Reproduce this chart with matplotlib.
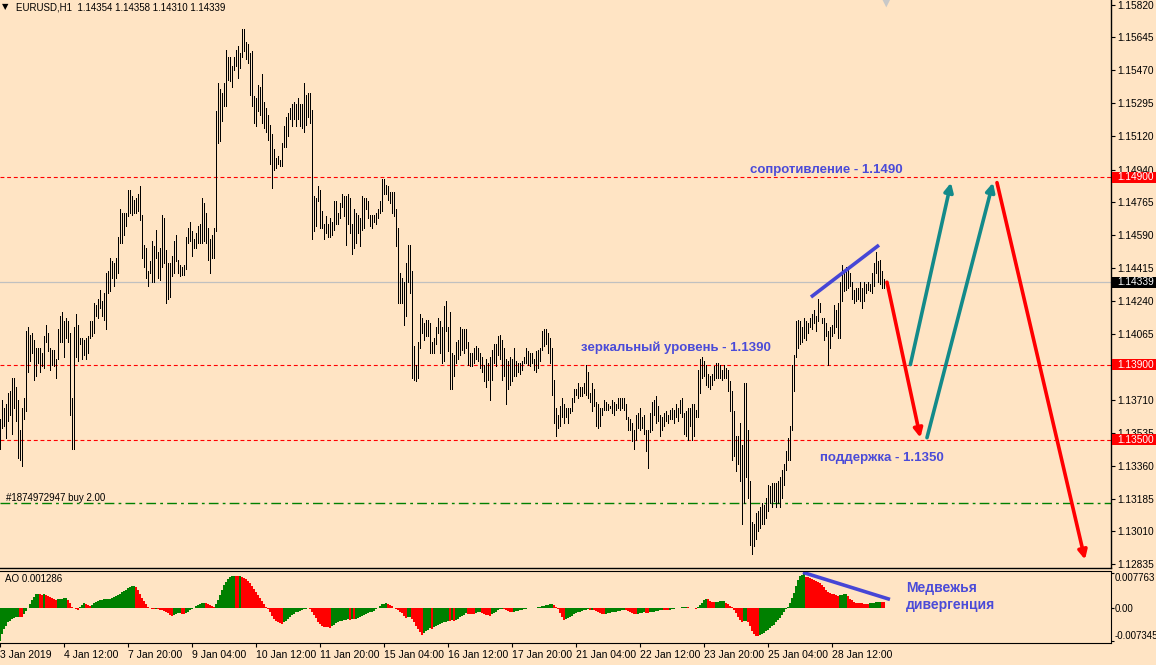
""" EURUSD H1 chart with Awesome Oscillator, MT4 look """
import numpy as np
import matplotlib.pyplot as plt
import matplotlib.transforms as mtransforms
from matplotlib.patches import Rectangle

''' bar data read off the screenshot (one value per hourly bar) '''
high = [
    1.1361, 1.1371, 1.1367, 1.1369, 1.1375, 1.1376, 1.1383, 1.1383, 1.1378, 1.1371,
    1.1355, 1.1367, 1.1372, 1.1408, 1.1410, 1.1406, 1.1407, 1.1403, 1.1399, 1.1399,
    1.1399, 1.1396, 1.1405, 1.1411, 1.1407, 1.1399, 1.1398, 1.1398, 1.1393, 1.1409,
    1.1416, 1.1418, 1.1413, 1.1415, 1.1413, 1.1407, 1.1372, 1.1410, 1.1417, 1.1411,
    1.1404, 1.1404, 1.1403, 1.1404, 1.1405, 1.1413, 1.1413, 1.1423, 1.1422, 1.1425,
    1.1430, 1.1424, 1.1428, 1.1439, 1.1440, 1.1447, 1.1445, 1.1444, 1.1447, 1.1458,
    1.1473, 1.1471, 1.1471, 1.1471, 1.1483, 1.1483, 1.1480, 1.1478, 1.1479, 1.1481,
    1.1485, 1.1470, 1.1454, 1.1452, 1.1440, 1.1445, 1.1456, 1.1453, 1.1462, 1.1450,
    1.1452, 1.1470, 1.1468, 1.1451, 1.1444, 1.1444, 1.1448, 1.1456, 1.1459, 1.1446,
    1.1443, 1.1442, 1.1443, 1.1458, 1.1463, 1.1466, 1.1461, 1.1457, 1.1460, 1.1464,
    1.1465, 1.1479, 1.1476, 1.1471, 1.1463, 1.1457, 1.1459, 1.1463, 1.1525, 1.1540,
    1.1537, 1.1535, 1.1540, 1.1558, 1.1554, 1.1554, 1.1549, 1.1554, 1.1558, 1.1560,
    1.1556, 1.1569, 1.1569, 1.1562, 1.1561, 1.1556, 1.1557, 1.1533, 1.1532, 1.1539,
    1.1538, 1.1545, 1.1530, 1.1527, 1.1523, 1.1518, 1.1513, 1.1505, 1.1500, 1.1501,
    1.1499, 1.1508, 1.1517, 1.1522, 1.1524, 1.1527, 1.1529, 1.1530, 1.1529, 1.1532,
    1.1529, 1.1529, 1.1540, 1.1534, 1.1535, 1.1535, 1.1526, 1.1480, 1.1479, 1.1485,
    1.1483, 1.1472, 1.1465, 1.1469, 1.1465, 1.1468, 1.1466, 1.1477, 1.1477, 1.1471,
    1.1476, 1.1481, 1.1480, 1.1480, 1.1481, 1.1479, 1.1465, 1.1473, 1.1471, 1.1470,
    1.1468, 1.1480, 1.1479, 1.1479, 1.1477, 1.1470, 1.1470, 1.1470, 1.1471, 1.1473,
    1.1477, 1.1489, 1.1489, 1.1486, 1.1485, 1.1482, 1.1482, 1.1482, 1.1473, 1.1463,
    1.1439, 1.1436, 1.1434, 1.1444, 1.1454, 1.1454, 1.1440, 1.1400, 1.1390, 1.1402,
    1.1417, 1.1415, 1.1412, 1.1414, 1.1414, 1.1412, 1.1402, 1.1404, 1.1410, 1.1415,
    1.1413, 1.1410, 1.1421, 1.1424, 1.1410, 1.1418, 1.1396, 1.1395, 1.1402, 1.1403,
    1.1410, 1.1409, 1.1409, 1.1409, 1.1402, 1.1396, 1.1396, 1.1399, 1.1400, 1.1399,
    1.1396, 1.1394, 1.1390, 1.1393, 1.1391, 1.1394, 1.1398, 1.1401, 1.1401, 1.1405,
    1.1406, 1.1403, 1.1399, 1.1393, 1.1392, 1.1394, 1.1393, 1.1399, 1.1392, 1.1391,
    1.1391, 1.1392, 1.1394, 1.1399, 1.1397, 1.1396, 1.1396, 1.1393, 1.1397, 1.1398,
    1.1399, 1.1408, 1.1409, 1.1409, 1.1407, 1.1404, 1.1399, 1.1382, 1.1367, 1.1363,
    1.1368, 1.1372, 1.1369, 1.1367, 1.1367, 1.1367, 1.1372, 1.1377, 1.1377, 1.1380,
    1.1378, 1.1378, 1.1380, 1.1390, 1.1386, 1.1375, 1.1380, 1.1377, 1.1370, 1.1369,
    1.1367, 1.1367, 1.1371, 1.1370, 1.1369, 1.1368, 1.1371, 1.1370, 1.1369, 1.1372,
    1.1372, 1.1372, 1.1372, 1.1369, 1.1362, 1.1361, 1.1359, 1.1355, 1.1363, 1.1364,
    1.1367, 1.1362, 1.1363, 1.1355, 1.1355, 1.1364, 1.1370, 1.1371, 1.1373, 1.1368,
    1.1363, 1.1362, 1.1364, 1.1365, 1.1363, 1.1366, 1.1367, 1.1366, 1.1369, 1.1367,
    1.1371, 1.1372, 1.1364, 1.1365, 1.1367, 1.1367, 1.1369, 1.1369, 1.1366, 1.1387,
    1.1393, 1.1394, 1.1392, 1.1390, 1.1385, 1.1384, 1.1385, 1.1389, 1.1391, 1.1391,
    1.1390, 1.1387, 1.1390, 1.1388, 1.1387, 1.1381, 1.1376, 1.1365, 1.1352, 1.1352,
    1.1359, 1.1347, 1.1380, 1.1380, 1.1355, 1.1328, 1.1306, 1.1305, 1.1311, 1.1312,
    1.1314, 1.1316, 1.1315, 1.1319, 1.1326, 1.1325, 1.1327, 1.1327, 1.1327, 1.1328,
    1.1330, 1.1334, 1.1337, 1.1344, 1.1351, 1.1357, 1.1390, 1.1395, 1.1413, 1.1414,
    1.1413, 1.1410, 1.1415, 1.1413, 1.1412, 1.1415, 1.1417, 1.1419, 1.1416, 1.1425,
    1.1423, 1.1415, 1.1415, 1.1412, 1.1408, 1.1410, 1.1411, 1.1422, 1.1419, 1.1423,
    1.1434, 1.1443, 1.1439, 1.1442, 1.1441, 1.1439, 1.1434, 1.1430, 1.1431, 1.1431,
    1.1434, 1.1431, 1.1434, 1.1433, 1.1434, 1.1433, 1.1439, 1.1444, 1.1450, 1.1445,
    1.1446, 1.1440, 1.14358,
]
low = [
    1.1345, 1.1356, 1.1357, 1.1351, 1.1360, 1.1363, 1.1353, 1.1367, 1.1360, 1.1340,
    1.1339, 1.1336, 1.1361, 1.1365, 1.1386, 1.1392, 1.1396, 1.1382, 1.1384, 1.1391,
    1.1386, 1.1389, 1.1388, 1.1402, 1.1397, 1.1387, 1.1390, 1.1389, 1.1383, 1.1393,
    1.1402, 1.1402, 1.1394, 1.1404, 1.1402, 1.1363, 1.1345, 1.1345, 1.1394, 1.1392,
    1.1401, 1.1393, 1.1395, 1.1393, 1.1396, 1.1404, 1.1405, 1.1407, 1.1416, 1.1415,
    1.1420, 1.1416, 1.1414, 1.1409, 1.1428, 1.1429, 1.1436, 1.1432, 1.1436, 1.1439,
    1.1455, 1.1455, 1.1459, 1.1464, 1.1469, 1.1471, 1.1470, 1.1471, 1.1471, 1.1472,
    1.1467, 1.1447, 1.1442, 1.1436, 1.1432, 1.1439, 1.1434, 1.1434, 1.1447, 1.1436,
    1.1435, 1.1442, 1.1444, 1.1423, 1.1425, 1.1426, 1.1437, 1.1439, 1.1445, 1.1439,
    1.1437, 1.1438, 1.1438, 1.1441, 1.1455, 1.1456, 1.1448, 1.1452, 1.1452, 1.1455,
    1.1455, 1.1455, 1.1456, 1.1455, 1.1446, 1.1439, 1.1447, 1.1447, 1.1461, 1.1508,
    1.1509, 1.1520, 1.1528, 1.1528, 1.1542, 1.1541, 1.1538, 1.1547, 1.1549, 1.1543,
    1.1548, 1.1554, 1.1557, 1.1553, 1.1551, 1.1534, 1.1528, 1.1519, 1.1517, 1.1525,
    1.1523, 1.1519, 1.1516, 1.1514, 1.1510, 1.1497, 1.1484, 1.1494, 1.1495, 1.1497,
    1.1496, 1.1496, 1.1506, 1.1506, 1.1512, 1.1521, 1.1517, 1.1521, 1.1517, 1.1521,
    1.1517, 1.1516, 1.1514, 1.1518, 1.1522, 1.1519, 1.1457, 1.1461, 1.1464, 1.1477,
    1.1463, 1.1463, 1.1457, 1.1460, 1.1458, 1.1458, 1.1459, 1.1462, 1.1465, 1.1465,
    1.1468, 1.1474, 1.1469, 1.1454, 1.1465, 1.1460, 1.1449, 1.1452, 1.1455, 1.1460,
    1.1453, 1.1462, 1.1463, 1.1473, 1.1468, 1.1464, 1.1463, 1.1466, 1.1465, 1.1468,
    1.1471, 1.1472, 1.1481, 1.1481, 1.1478, 1.1476, 1.1471, 1.1469, 1.1453, 1.1423,
    1.1423, 1.1423, 1.1411, 1.1416, 1.1434, 1.1428, 1.1383, 1.1382, 1.1381, 1.1383,
    1.1399, 1.1407, 1.1403, 1.1405, 1.1405, 1.1396, 1.1396, 1.1396, 1.1401, 1.1407,
    1.1396, 1.1391, 1.1392, 1.1408, 1.1397, 1.1377, 1.1377, 1.1384, 1.1391, 1.1393,
    1.1395, 1.1398, 1.1396, 1.1399, 1.1390, 1.1389, 1.1389, 1.1391, 1.1393, 1.1392,
    1.1388, 1.1386, 1.1381, 1.1378, 1.1382, 1.1371, 1.1382, 1.1391, 1.1389, 1.1395,
    1.1393, 1.1382, 1.1384, 1.1369, 1.1377, 1.1379, 1.1381, 1.1384, 1.1384, 1.1386,
    1.1385, 1.1387, 1.1391, 1.1391, 1.1390, 1.1389, 1.1391, 1.1387, 1.1386, 1.1388,
    1.1392, 1.1398, 1.1400, 1.1401, 1.1396, 1.1391, 1.1374, 1.1359, 1.1352, 1.1356,
    1.1357, 1.1362, 1.1359, 1.1362, 1.1359, 1.1364, 1.1365, 1.1370, 1.1374, 1.1372,
    1.1373, 1.1373, 1.1375, 1.1374, 1.1372, 1.1370, 1.1365, 1.1368, 1.1357, 1.1356,
    1.1357, 1.1363, 1.1366, 1.1366, 1.1366, 1.1367, 1.1364, 1.1363, 1.1366, 1.1367,
    1.1366, 1.1367, 1.1366, 1.1361, 1.1355, 1.1355, 1.1349, 1.1345, 1.1350, 1.1356,
    1.1355, 1.1356, 1.1353, 1.1344, 1.1335, 1.1354, 1.1355, 1.1363, 1.1359, 1.1360,
    1.1352, 1.1355, 1.1357, 1.1360, 1.1359, 1.1361, 1.1361, 1.1359, 1.1362, 1.1360,
    1.1364, 1.1362, 1.1353, 1.1352, 1.1350, 1.1357, 1.1350, 1.1352, 1.1362, 1.1362,
    1.1375, 1.1383, 1.1384, 1.1379, 1.1378, 1.1377, 1.1379, 1.1382, 1.1383, 1.1383,
    1.1383, 1.1382, 1.1383, 1.1383, 1.1376, 1.1365, 1.1339, 1.1341, 1.1333, 1.1337,
    1.1328, 1.1305, 1.1316, 1.1330, 1.1319, 1.1294, 1.1289, 1.1293, 1.1297, 1.1301,
    1.1303, 1.1305, 1.1305, 1.1308, 1.1312, 1.1316, 1.1314, 1.1317, 1.1314, 1.1316,
    1.1314, 1.1319, 1.1326, 1.1334, 1.1339, 1.1339, 1.1355, 1.1376, 1.1394, 1.1399,
    1.1401, 1.1402, 1.1404, 1.1403, 1.1407, 1.1410, 1.1409, 1.1412, 1.1408, 1.1413,
    1.1418, 1.1412, 1.1403, 1.1405, 1.1390, 1.1399, 1.1405, 1.1407, 1.1410, 1.1404,
    1.1404, 1.1424, 1.1429, 1.1430, 1.1431, 1.1432, 1.1425, 1.1423, 1.1424, 1.1425,
    1.1424, 1.1420, 1.1424, 1.1428, 1.1430, 1.1429, 1.1428, 1.1432, 1.1439, 1.1434,
    1.1433, 1.1431, 1.14310,
]

''' Awesome Oscillator values, one per bar '''
ao = [
    -0.00730, -0.00580, -0.00470, -0.00390, -0.00320, -0.00280, -0.00250, -0.00230, -0.00210, -0.00200,
    -0.00205, -0.00210, -0.00130, -0.00060, 0.00000, 0.00080, 0.00170, 0.00250, 0.00300, 0.00320,
    0.00310, 0.00290, 0.00300, 0.00280, 0.00260, 0.00240, 0.00220, 0.00200, 0.00180, 0.00190,
    0.00200, 0.00210, 0.00215, 0.00220, 0.00180, 0.00100, 0.00030, -0.00010, -0.00030, -0.00040,
    0.00020, 0.00070, 0.00100, 0.00080, 0.00060, 0.00050, 0.00070, 0.00100, 0.00130, 0.00160,
    0.00180, 0.00185, 0.00190, 0.00195, 0.00200, 0.00210, 0.00230, 0.00250, 0.00270, 0.00290,
    0.00320, 0.00350, 0.00380, 0.00410, 0.00440, 0.00460, 0.00480, 0.00485, 0.00460, 0.00400,
    0.00320, 0.00230, 0.00150, 0.00080, 0.00020, -0.00010, -0.00020, -0.00030, -0.00020, -0.00030,
    -0.00040, -0.00050, -0.00060, -0.00090, -0.00120, -0.00150, -0.00170, -0.00150, -0.00130, -0.00120,
    -0.00110, -0.00130, -0.00140, -0.00110, -0.00080, -0.00050, -0.00020, 0.00010, 0.00040, 0.00070,
    0.00090, 0.00110, 0.00120, 0.00100, 0.00080, 0.00060, 0.00040, 0.00030, 0.00090, 0.00180,
    0.00290, 0.00400, 0.00500, 0.00580, 0.00640, 0.00680, 0.00700, 0.00710, 0.00705, 0.00700,
    0.00705, 0.00690, 0.00670, 0.00640, 0.00600, 0.00550, 0.00490, 0.00430, 0.00360, 0.00290,
    0.00230, 0.00160, 0.00090, 0.00030, -0.00030, -0.00100, -0.00170, -0.00240, -0.00290, -0.00320,
    -0.00340, -0.00350, -0.00320, -0.00280, -0.00240, -0.00200, -0.00160, -0.00130, -0.00100, -0.00080,
    -0.00060, -0.00040, -0.00030, -0.00020, 0.00000, -0.00030, -0.00090, -0.00160, -0.00230, -0.00300,
    -0.00360, -0.00400, -0.00420, -0.00425, -0.00430, -0.00435, -0.00400, -0.00370, -0.00340, -0.00310,
    -0.00290, -0.00280, -0.00270, -0.00260, -0.00250, -0.00260, -0.00250, -0.00255, -0.00240, -0.00230,
    -0.00210, -0.00180, -0.00160, -0.00140, -0.00120, -0.00100, -0.00080, -0.00060, -0.00030, 0.00000,
    0.00040, 0.00080, 0.00090, 0.00100, 0.00090, 0.00070, 0.00040, 0.00010, -0.00020, -0.00050,
    -0.00080, -0.00120, -0.00170, -0.00220, -0.00210, -0.00200, -0.00250, -0.00320, -0.00390, -0.00460,
    -0.00530, -0.00590, -0.00560, -0.00520, -0.00480, -0.00450, -0.00460, -0.00420, -0.00400, -0.00380,
    -0.00360, -0.00340, -0.00320, -0.00300, -0.00280, -0.00290, -0.00270, -0.00280, -0.00260, -0.00240,
    -0.00210, -0.00180, -0.00150, -0.00120, -0.00125, -0.00130, -0.00135, -0.00140, -0.00120, -0.00100,
    -0.00090, -0.00110, -0.00130, -0.00150, -0.00160, -0.00170, -0.00140, -0.00110, -0.00080, -0.00050,
    -0.00030, -0.00020, -0.00030, -0.00050, -0.00070, -0.00080, -0.00090, -0.00080, -0.00070, -0.00060,
    -0.00050, -0.00040, -0.00030, -0.00020, -0.00010, 0.00005, 0.00000, -0.00005, 0.00010, 0.00020,
    0.00030, 0.00040, 0.00050, 0.00060, 0.00070, 0.00080, 0.00095, 0.00070, 0.00030, -0.00030,
    -0.00110, -0.00190, -0.00260, -0.00250, -0.00220, -0.00190, -0.00170, -0.00140, -0.00120, -0.00100,
    -0.00080, -0.00060, -0.00050, -0.00040, -0.00030, -0.00040, -0.00035, -0.00050, -0.00070, -0.00090,
    -0.00110, -0.00130, -0.00140, -0.00130, -0.00120, -0.00110, -0.00100, -0.00090, -0.00080, -0.00070,
    -0.00060, -0.00050, -0.00040, -0.00050, -0.00070, -0.00090, -0.00110, -0.00130, -0.00140, -0.00130,
    -0.00120, -0.00110, -0.00100, -0.00110, -0.00120, -0.00100, -0.00090, -0.00080, -0.00070, -0.00060,
    -0.00050, -0.00040, -0.00045, -0.00050, -0.00055, -0.00040, -0.00030, -0.00020, -0.00010, 0.00000,
    0.00010, 0.00020, 0.00025, 0.00030, 0.00020, 0.00010, 0.00000, -0.00010, -0.00020, 0.00020,
    0.00070, 0.00120, 0.00170, 0.00210, 0.00190, 0.00160, 0.00140, 0.00130, 0.00135, 0.00140,
    0.00145, 0.00150, 0.00155, 0.00120, 0.00080, 0.00050, 0.00020, -0.00040, -0.00120, -0.00200,
    -0.00260, -0.00300, -0.00290, -0.00280, -0.00310, -0.00410, -0.00510, -0.00580, -0.00620, -0.00630,
    -0.00610, -0.00580, -0.00550, -0.00520, -0.00490, -0.00450, -0.00410, -0.00370, -0.00320, -0.00270,
    -0.00220, -0.00160, -0.00090, -0.00030, 0.00020, 0.00110, 0.00220, 0.00330, 0.00480, 0.00630,
    0.00700, 0.00740, 0.007763, 0.00690, 0.00685, 0.00670, 0.00650, 0.00630, 0.00610, 0.00580,
    0.00550, 0.00520, 0.00470, 0.00410, 0.00360, 0.00330, 0.00310, 0.00300, 0.00280, 0.00265,
    0.00280, 0.00290, 0.00300, 0.00310, 0.00260, 0.00210, 0.00170, 0.00140, 0.00120, 0.00110,
    0.00105, 0.00100, 0.00098, 0.00096, 0.00094, 0.00100, 0.00110, 0.00120, 0.00130, 0.00135,
    0.00143, 0.00135, 0.001286,
]

time_labels = ['3 Jan 2019', '4 Jan 12:00', '7 Jan 20:00', '9 Jan 04:00', '10 Jan 12:00',
               '11 Jan 20:00', '15 Jan 04:00', '16 Jan 12:00', '17 Jan 20:00', '21 Jan 04:00',
               '22 Jan 12:00', '23 Jan 20:00', '25 Jan 04:00', '28 Jan 12:00']
price_ticks = [1.15820, 1.15645, 1.15470, 1.15295, 1.15120, 1.14940, 1.14765, 1.14590, 1.14415,
               1.14240, 1.14065, 1.13890, 1.13710, 1.13535, 1.13360, 1.13185, 1.13010, 1.12835]
# 1.13890 sits completely under the 1.13900 level box, so its text is not shown
price_tick_labels = ['' if p == 1.13890 else '%.5f' % p for p in price_ticks]

resistance = 1.1490
mirror_level = 1.1390
support = 1.1350
bid = 1.14339
order_price = 1.1316

# forecast arrows: (bar_from, price_from, bar_to, price_to, colour)
forecast = [
    (443.3, 1.14339, 460.0, 1.1351, '#FF0000'),
    (455.0, 1.1390, 475.3, 1.1487, '#138A8A'),
    (463.3, 1.1351, 496.3, 1.1487, '#138A8A'),
    (498.3, 1.1487, 542.3, 1.1286, '#FF0000'),
]
price_trend = ([405.3, 439.3], [1.1426, 1.14537])
ao_trend = ([401.3, 444.8], [0.0079, 0.0019])

''' figure layout (pixel based, like the terminal) '''
W, H = 1156, 665
BG = '#FFE4C4'
TXT_BLUE = '#4B4BD8'
plt.rcParams['font.family'] = ['Liberation Sans', 'DejaVu Sans']

fig = plt.figure(figsize=(W / 100, H / 100), dpi=100, facecolor=BG)
ax = fig.add_axes([0, 1 - 568 / H, 1111 / W, 568 / H], facecolor=BG)
ax2 = fig.add_axes([0, 1 - 643 / H, 1111 / W, 72 / H], facecolor=BG)

x = np.arange(len(high))
xlim = (-0.165, 555.3)

''' price bars '''
ax.axhline(bid, color='#C0C0C0', lw=0.9, zorder=1)
ax.vlines(x, low, high, colors='black', linewidth=0.5, antialiased=False, zorder=3)
for lvl in (resistance, mirror_level, support):
    ax.axhline(lvl, color='red', lw=0.8, ls=(0, (3.5, 2.5)), zorder=2)
ax.axhline(order_price, color='#008000', lw=1.0, ls=(0, (7, 3, 2, 3)), zorder=2)

ax.plot(price_trend[0], price_trend[1], color='#4646D6', lw=2.6, solid_capstyle='butt', zorder=4)
for x0, y0, x1, y1, c in forecast:
    ax.annotate('', xy=(x1, y1), xytext=(x0, y0),
                arrowprops=dict(arrowstyle='-|>', color=c, lw=2.6, mutation_scale=13,
                                shrinkA=0, shrinkB=0), zorder=5)

ax.text(374.8, 1.14937, 'сопротивление - 1.1490', color=TXT_BLUE, fontsize=9.5,
        fontweight='bold', va='center', ha='left')
ax.text(290.3, 1.13988, 'зеркальный уровень - 1.1390', color=TXT_BLUE, fontsize=9.5,
        fontweight='bold', va='center', ha='left')
ax.text(409.8, 1.13401, 'поддержка - 1.1350', color=TXT_BLUE, fontsize=9.5,
        fontweight='bold', va='center', ha='left')
ax.text(2.8, 1.13188, '#1874972947 buy 2.00', color='black', fontsize=7, va='center', ha='left')

ax.set_xlim(xlim)
ax.set_ylim(1.12815, 1.15844)
ax.set_xticks([])
ax.yaxis.tick_right()
ax.set_yticks(price_ticks)
ax.set_yticklabels(price_tick_labels)
ax.tick_params(axis='y', direction='out', length=3, width=0.8, pad=1.5, labelsize=7.3, colors='black')
for s in ('top', 'left'):
    ax.spines[s].set_visible(False)
for s in ('right', 'bottom'):
    ax.spines[s].set_linewidth(1.0)

# price labels boxes on the right scale
trans = mtransforms.blended_transform_factory(fig.transFigure, ax.transData)
box_h = 11 / 18750
for lvl, face in ((resistance, 'red'), (mirror_level, 'red'), (support, 'red'), (bid, 'black')):
    ax.add_patch(Rectangle((1112 / W, lvl - box_h / 2), 44 / W, box_h, transform=trans,
                           facecolor=face, edgecolor='none', clip_on=False, zorder=6))
    ax.text(1117 / W, lvl, '%.5f' % lvl, transform=trans, color='white', fontsize=7.3,
            va='center', ha='left', clip_on=False, zorder=7)

''' Awesome Oscillator '''
ao = np.array(ao)
rising = np.r_[True, ao[1:] > ao[:-1]]
ao_colors = np.where(rising, '#008000', '#FF0000')
ax2.bar(x, ao, width=1.0, color=ao_colors, linewidth=0, antialiased=False)
ax2.plot(ao_trend[0], ao_trend[1], color='#4646D6', lw=2.6, solid_capstyle='butt')
ax2.text(452.8, 0.00255, 'Медвежья\nдивергенция', color=TXT_BLUE, fontsize=10,
         fontweight='bold', va='center', ha='left', linespacing=1.2)
ax2.text(5 / 1111, 0.89, 'AO 0.001286', transform=ax2.transAxes, fontsize=7,
         va='center', ha='left')

ax2.set_xlim(xlim)
ax2.set_ylim(-0.00777, 0.00821)
ax2.yaxis.tick_right()
ax2.set_yticks([0.007763, 0.0, -0.007345])
ax2.set_yticklabels(['0.007763', '0.00', '-0.007345'])
ax2.tick_params(axis='y', direction='out', length=2, width=0.8, pad=0.3, labelsize=7)
ylabs = ax2.get_yticklabels()
ylabs[0].set_verticalalignment('top')
ylabs[2].set_verticalalignment('bottom')
ax2.set_xticks(np.arange(len(time_labels)) * 32)
ax2.set_xticklabels(time_labels, ha='left')
ax2.tick_params(axis='x', direction='out', length=3, width=0.8, pad=2, labelsize=7.5)
ax2.spines['left'].set_visible(False)

''' header '''
fig.text(2 / W, 1 - 7 / H, '▼', fontsize=6, family='DejaVu Sans', va='center', ha='left')
fig.text(16 / W, 1 - 7 / H, 'EURUSD,H1  1.14354 1.14358 1.14310 1.14339', fontsize=7,
         va='center', ha='left')
fig.text(886 / W, 1 - 3 / H, '▼', fontsize=8, color='#C8C8C8', family='DejaVu Sans',
         va='center', ha='center')

fig.savefig('out.png', dpi=100, facecolor=BG)
